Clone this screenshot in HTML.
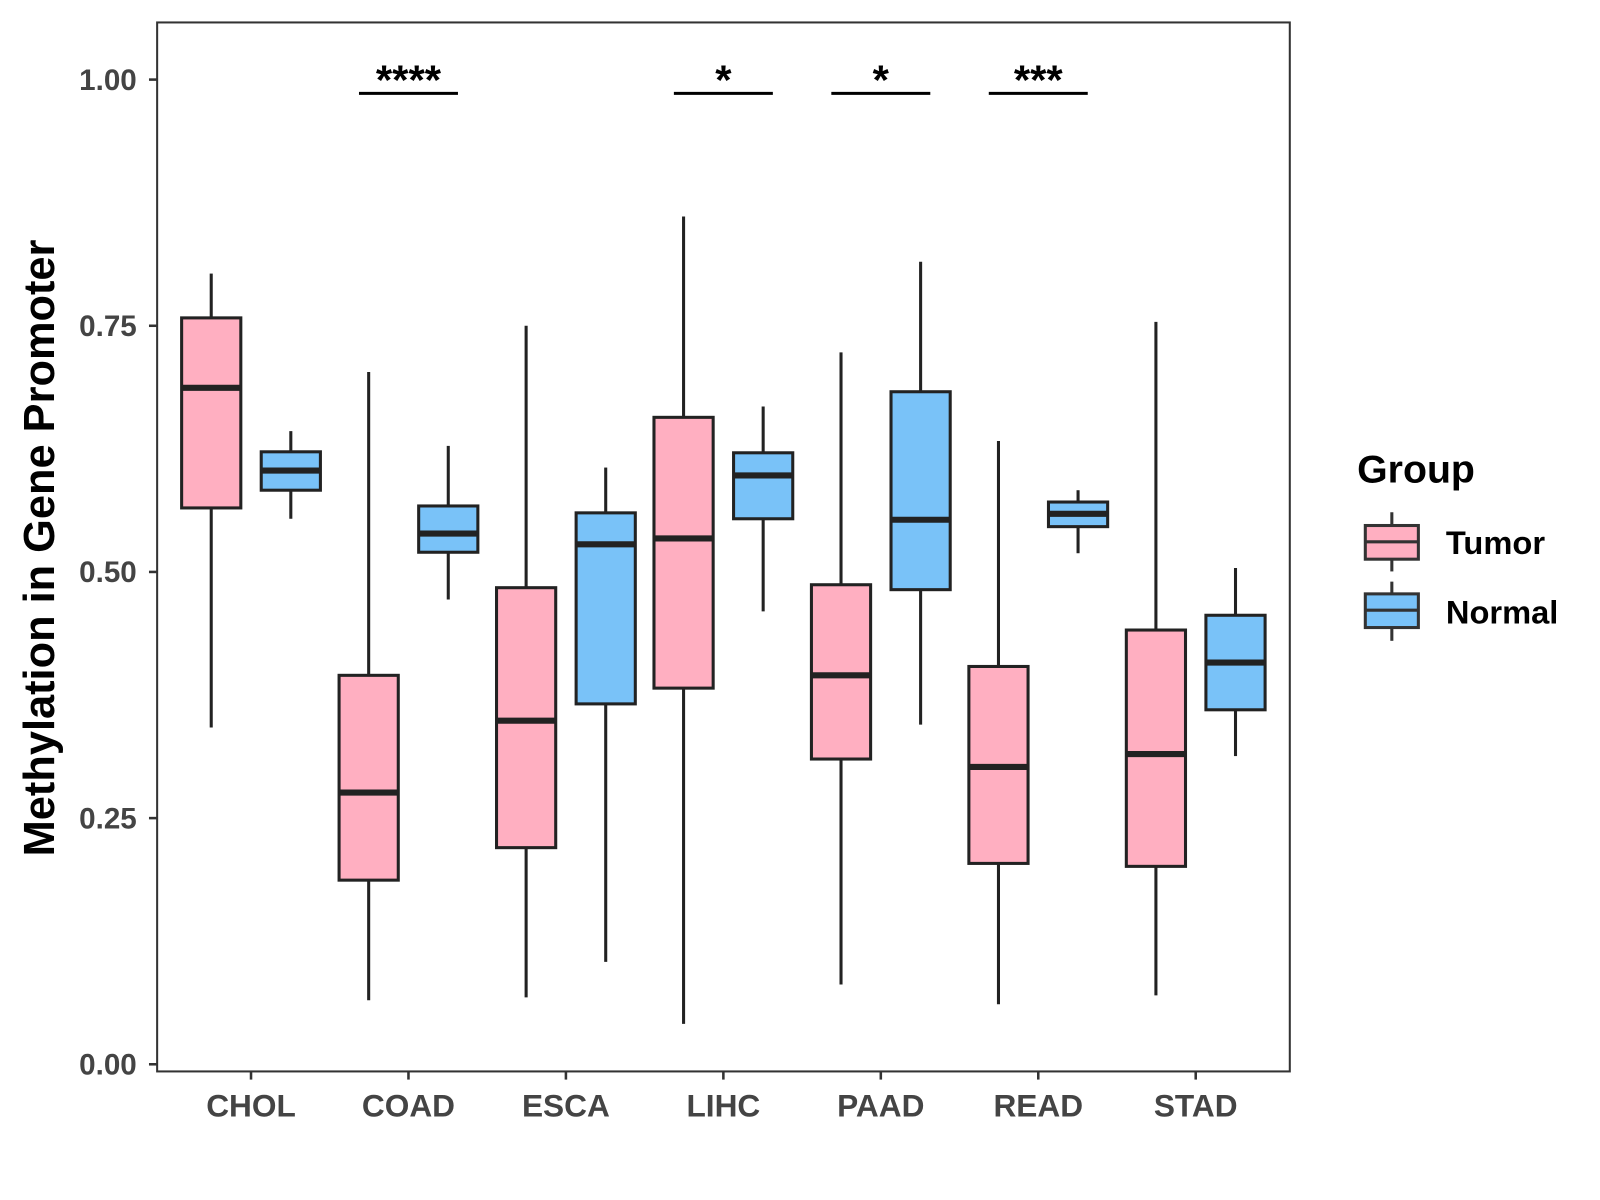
<!DOCTYPE html>
<html><head><meta charset="utf-8"><style>
html,body{margin:0;padding:0;background:#fff;}
svg{display:block;font-family:"Liberation Sans",Arial,sans-serif;font-weight:bold;}
</style></head><body>
<svg id="chart" width="1600" height="1200" viewBox="0 0 1568 1176" xmlns="http://www.w3.org/2000/svg">
<rect x="0" y="0" width="1568" height="1176" fill="#fff"/>
<rect x="154" y="22" width="1110" height="1028" fill="#fff" stroke="#333" stroke-width="2"/>
<g id="ticks"></g>
<g id="boxes"></g>
<g id="sig"></g>
<text transform="translate(53,537) rotate(-90)" text-anchor="middle" font-size="42.5" fill="#000">Methylation in Gene Promoter</text>
<g>
<text x="1330" y="473" font-size="38.5" fill="#000">Group</text>
<g>
<line x1="1364" y1="502" x2="1364" y2="560" stroke="#333" stroke-width="3"/>
<rect x="1338" y="515" width="52" height="33" fill="#FFAFC1" stroke="#333" stroke-width="3"/>
<line x1="1338" y1="531" x2="1390" y2="531" stroke="#333" stroke-width="3"/>
<text x="1417" y="543" font-size="32" fill="#000">Tumor</text>
</g>
<g>
<line x1="1364" y1="570" x2="1364" y2="628" stroke="#333" stroke-width="3"/>
<rect x="1338" y="582" width="52" height="33" fill="#79C2F8" stroke="#333" stroke-width="3"/>
<line x1="1338" y1="598" x2="1390" y2="598" stroke="#333" stroke-width="3"/>
<text x="1417" y="611" font-size="32" fill="#000">Normal</text>
</g>
</g>
</svg>
<script>
const categories = ["CHOL","COAD","ESCA","LIHC","PAAD","READ","STAD"];
const tumorStats = [
 [0.342,0.565,0.687,0.758,0.803],
 [0.065,0.187,0.276,0.395,0.703],
 [0.068,0.220,0.349,0.484,0.750],
 [0.041,0.382,0.534,0.657,0.861],
 [0.081,0.310,0.395,0.487,0.723],
 [0.061,0.204,0.302,0.404,0.633],
 [0.070,0.201,0.315,0.441,0.754]];
const normalStats = [
 [0.554,0.583,0.603,0.622,0.643],
 [0.472,0.520,0.539,0.567,0.628],
 [0.104,0.366,0.528,0.560,0.606],
 [0.460,0.554,0.598,0.621,0.668],
 [0.345,0.482,0.553,0.683,0.815],
 [0.519,0.546,0.559,0.571,0.583],
 [0.313,0.360,0.408,0.456,0.504]];
const yTicks = [0,0.25,0.5,0.75,1.0];
const yTickLabels = ["0.00","0.25","0.50","0.75","1.00"];
const sigCategories = ["COAD","LIHC","PAAD","READ"];
const sigLabels = ["****","*","*","***"];
const sigLevel = 0.986;

const NS="http://www.w3.org/2000/svg";
const yS = v => 1043 - v*965;
const xS = i => 246 + i*154.3;
function mk(tag, attrs, parent){const e=document.createElementNS(NS,tag);for(const k in attrs)e.setAttribute(k,attrs[k]);parent.appendChild(e);return e;}
const ticks=document.getElementById('ticks');
yTicks.forEach((v,i)=>{
  const t=mk('line',{x1:146,x2:154,y1:yS(v),y2:yS(v),stroke:'#333','stroke-width':2.5},ticks);
  
  
  const l=mk('text',{x:134,y:yS(v)+10,'text-anchor':'end','font-size':29,fill:'#444'},ticks);
  l.textContent=yTickLabels[i];
  
  
});
categories.forEach((c,i)=>{
  const t=mk('line',{x1:xS(i),x2:xS(i),y1:1050,y2:1058,stroke:'#333','stroke-width':2.5},ticks);
  
  
  const l=mk('text',{x:xS(i),y:1094,'text-anchor':'middle','font-size':31,fill:'#444'},ticks);
  l.textContent=c;
  
  
});
const boxes=document.getElementById('boxes');
function box(cx, s, fill, name){
  const g=mk('g',{},boxes);
  
  
  const w=29;
  mk('line',{x1:cx,x2:cx,y1:yS(s[0]),y2:yS(s[1]),stroke:'#222','stroke-width':3},g);
  mk('line',{x1:cx,x2:cx,y1:yS(s[3]),y2:yS(s[4]),stroke:'#222','stroke-width':3},g);
  mk('rect',{x:cx-w,y:yS(s[3]),width:2*w,height:yS(s[1])-yS(s[3]),fill:fill,stroke:'#222','stroke-width':3},g);
  mk('line',{x1:cx-w,x2:cx+w,y1:yS(s[2]),y2:yS(s[2]),stroke:'#222','stroke-width':6},g);
}
categories.forEach((c,i)=>{
  box(xS(i)-39,tumorStats[i],'#FFAFC1','box-tumor-'+c.toLowerCase());
  box(xS(i)+39,normalStats[i],'#79C2F8','box-normal-'+c.toLowerCase());
});
const sig=document.getElementById('sig');
sigCategories.forEach((c,k)=>{
  const i=categories.indexOf(c);
  const ln=mk('line',{x1:xS(i)-48.5,x2:xS(i)+48.5,y1:yS(sigLevel),y2:yS(sigLevel),stroke:'#000','stroke-width':3},sig);
  
  
  const t=mk('text',{x:xS(i),y:yS(sigLevel)+1,'text-anchor':'middle','font-size':41,fill:'#000'},sig);
  t.textContent=sigLabels[k];
  
  
});
</script>
</body></html>
